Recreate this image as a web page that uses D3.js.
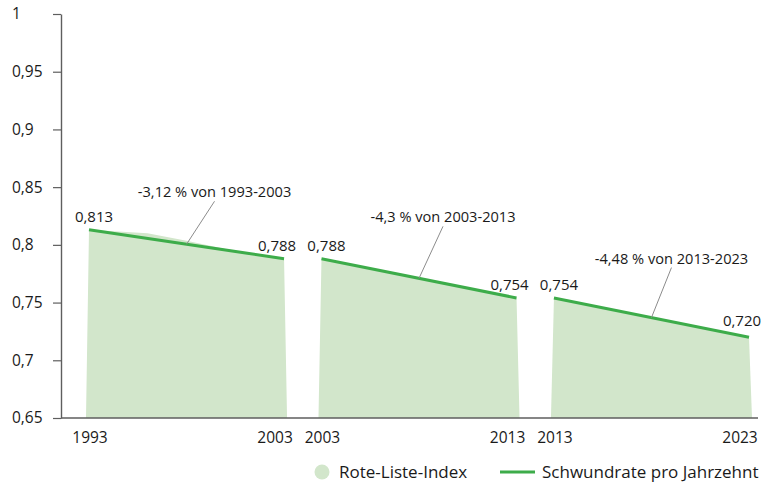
<!DOCTYPE html>
<html lang="de">
<head>
<meta charset="utf-8">
<script src="https://cdn.jsdelivr.net/npm/d3@7"></script>
<style>
  html, body { margin: 0; padding: 0; background: #ffffff; }
  svg { display: block; font-family: "Open Sans", "Noto Sans", sans-serif; }
</style>
</head>
<body>
<svg id="chart" width="780" height="485"></svg>
<script>
// Rote-Liste-Index, drei Jahrzehnte
const periodStart = [1993, 2003, 2013];
const periodEnd = [2003, 2013, 2023];
const startValues = [0.813, 0.788, 0.754];
const endValues = [0.788, 0.754, 0.720];
const declineLabels = ["-3,12 % von 1993-2003", "-4,3 % von 2003-2013", "-4,48 % von 2013-2023"];

// Index-Verlauf je Jahrzehnt (Flaeche)
const rliYears = [
  [1993, 1996, 1998, 2000, 2003],
  [2003, 2008, 2013],
  [2013, 2018, 2023]
];
const rliValues = [
  [0.813, 0.810, 0.8035, 0.7965, 0.788],
  [0.788, 0.7705, 0.754],
  [0.754, 0.737, 0.720]
];

const yTicks = [0.65, 0.7, 0.75, 0.8, 0.85, 0.9, 0.95, 1];
const legendLabels = ["Rote-Liste-Index", "Schwundrate pro Jahrzehnt"];

const colors = { area: "#d2e6cb", line: "#3dac4a", axis: "#5e5e5e", text: "#1a1a1a", leader: "#8c8c8c" };

const svg = d3.select("#chart");
const axisX = 61, baseY = 418, topY = 14, axisEnd = 758;

const y = d3.scaleLinear().domain([0.65, 1]).range([baseY, topY]);
const panel = d3.scaleBand().domain(d3.range(periodStart.length)).range([89, 749]).paddingInner(0.161);
const xIn = (i, year) => d3.scaleLinear()
  .domain([periodStart[i], periodEnd[i]])
  .range([panel(i), panel(i) + panel.bandwidth()])(year);

const de = d3.formatLocale({ decimal: ",", thousands: ".", grouping: [3], currency: ["", " €"] });
const tickFmt = de.format(".2~f");
const valFmt = de.format(".3f");

// Flaechen
const basePad = 3;
const poly = d3.line();
periodStart.forEach((s, i) => {
  const pts = [[xIn(i, s) - basePad, y(0.65)]]
    .concat(rliYears[i].map((yr, k) => [xIn(i, yr), y(rliValues[i][k])]))
    .concat([[xIn(i, periodEnd[i]) + basePad, y(0.65)]]);
  svg.append("path").attr("d", poly(pts) + "Z").attr("fill", colors.area);
});

// Y-Achse
const yAxis = svg.append("g").attr("transform", `translate(${axisX},0)`)
  .call(d3.axisLeft(y).tickValues(yTicks).tickFormat(tickFmt).tickSize(8).tickSizeOuter(0));
yAxis.select(".domain").attr("stroke", colors.axis).attr("stroke-width", 1.4);
yAxis.selectAll(".tick line").attr("stroke", colors.axis).attr("stroke-width", 1.2);
yAxis.selectAll(".tick text").attr("x", -49).attr("text-anchor", "start")
  .attr("fill", colors.text).style("font-size", "15.5px").style("font-family", "'Open Sans', sans-serif");

// X-Achse
svg.append("line").attr("x1", axisX).attr("x2", axisEnd).attr("y1", baseY).attr("y2", baseY)
  .attr("stroke", colors.axis).attr("stroke-width", 1.6);

const startShift = 1, endShift = -9;
periodStart.forEach((s, i) => {
  svg.append("text").attr("x", xIn(i, s) + startShift).attr("y", baseY + 25)
    .attr("text-anchor", "middle").attr("fill", colors.text).style("font-size", "15.5px").text(s);
  svg.append("text").attr("x", xIn(i, periodEnd[i]) + endShift).attr("y", baseY + 25)
    .attr("text-anchor", "middle").attr("fill", colors.text).style("font-size", "15.5px").text(periodEnd[i]);
});

// Schwundrate-Linien, Werte und Beschriftungen
const leaderDx = [28, 24, 20], leaderDy = [43, 52, 50];
periodStart.forEach((s, i) => {
  const e = periodEnd[i];
  svg.append("line")
    .attr("x1", xIn(i, s)).attr("y1", y(startValues[i]))
    .attr("x2", xIn(i, e)).attr("y2", y(endValues[i]))
    .attr("stroke", colors.line).attr("stroke-width", 3).attr("stroke-linecap", "butt");

  svg.append("text").attr("x", xIn(i, s) + 5).attr("y", y(startValues[i]) - 8)
    .attr("text-anchor", "middle").attr("fill", colors.text).style("font-size", "15px")
    .text(valFmt(startValues[i]));
  svg.append("text").attr("x", xIn(i, e) - 7).attr("y", y(endValues[i]) - (i === 2 ? 11 : 8))
    .attr("text-anchor", "middle").attr("fill", colors.text).style("font-size", "15px")
    .text(valFmt(endValues[i]));

  const mid = (s + e) / 2;
  const mx = xIn(i, mid), my = y((startValues[i] + endValues[i]) / 2);
  const tx = mx + leaderDx[i], ty = my - leaderDy[i];
  svg.append("line").attr("x1", mx).attr("y1", my).attr("x2", tx).attr("y2", ty)
    .attr("stroke", colors.leader).attr("stroke-width", 1);
  svg.append("text").attr("x", tx).attr("y", ty - 4)
    .attr("text-anchor", "middle").attr("fill", colors.text).style("font-size", "14.6px")
    .text(declineLabels[i]);
});

// Legende
const lg = svg.append("g").attr("transform", "translate(322,472)");
lg.append("circle").attr("r", 7.5).attr("fill", colors.area);
lg.append("text").attr("x", 17).attr("y", 6).attr("fill", colors.text).style("font-size", "17px").text(legendLabels[0]);
lg.append("line").attr("x1", 178).attr("x2", 213).attr("y1", 0).attr("y2", 0)
  .attr("stroke", colors.line).attr("stroke-width", 3);
lg.append("text").attr("x", 220).attr("y", 6).attr("fill", colors.text).style("font-size", "17px").text(legendLabels[1]);
</script>
</body>
</html>
